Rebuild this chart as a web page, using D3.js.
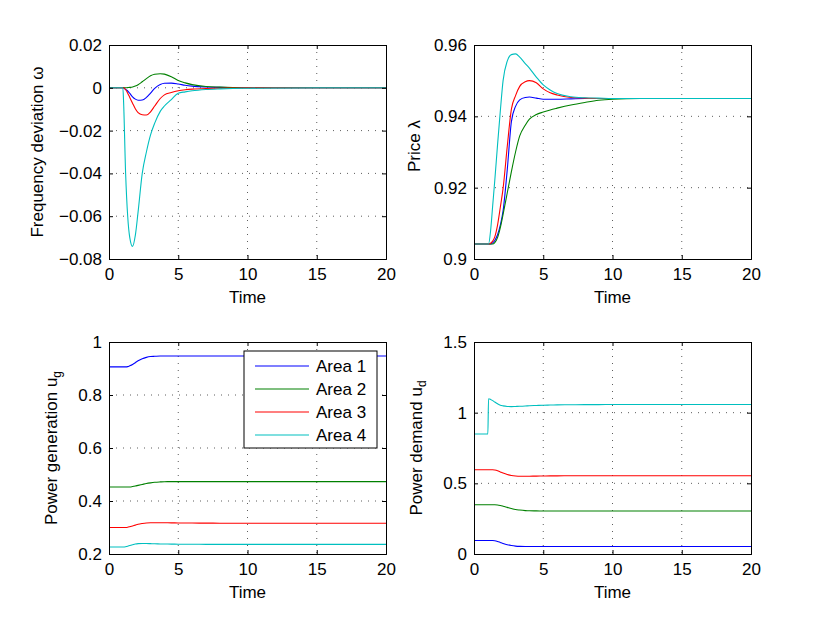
<!DOCTYPE html>
<html>
<head>
<meta charset="utf-8">
<style>
  body { margin: 0; background: #fff; }
  svg text { font-family: "Liberation Sans", Arial, sans-serif; fill: #000; }
</style>
</head>
<body>
<svg id="chart" width="830" height="625"></svg>
<script src="https://cdn.jsdelivr.net/npm/d3@7"></script>
<script>
// sample times shared by every curve
var time = [0, 1.0, 1.05, 1.2, 1.35, 1.5, 1.7, 1.9, 2.1, 2.4, 2.7, 3.0, 3.3, 3.7, 4.0, 4.5, 5.0, 5.5, 6, 7, 8, 9, 10, 12, 15, 20];

var areaNames = ["Area 1", "Area 2", "Area 3", "Area 4"];
var areaColors = ["#0000ff", "#008000", "#ff0000", "#00bfbf"];
var xTicks = [0, 5, 10, 15, 20];

// frequency deviation omega
var freqArea1 = [0, 0, 0, -0.0008, -0.0015, -0.0026, -0.0042, -0.0053, -0.0058, -0.0057, -0.0045, -0.0025, -0.0003, 0.0015, 0.0021, 0.0022, 0.0018, 0.0012, 0.0008, 0.0004, 0.0002, 0.0001, 0, 0, 0, 0];
var freqArea2 = [0, 0, 0, 0, 0.0001, 0.0002, 0.0004, 0.0008, 0.0014, 0.0028, 0.0043, 0.0056, 0.0063, 0.0066, 0.0064, 0.0052, 0.0034, 0.0023, 0.0015, 0.0006, 0.0003, 0.0001, 0, 0, 0, 0];
var freqArea3 = [0, 0, 0, -0.0008, -0.0025, -0.0045, -0.0072, -0.0098, -0.0116, -0.0126, -0.0127, -0.0112, -0.0085, -0.005, -0.0033, -0.0022, -0.0014, -0.0009, -0.0006, -0.0003, -0.0002, -0.0001, 0, 0, 0, 0];
var freqArea4 = [0, 0, -0.006, -0.04, -0.06, -0.07, -0.0741, -0.069, -0.058, -0.04, -0.03, -0.022, -0.0165, -0.011, -0.0085, -0.0055, -0.0025, -0.0019, -0.0014, -0.0008, -0.0005, -0.0003, -0.0002, -0.0001, 0, 0];

// price lambda
var priceArea1 = [0.9042, 0.9042, 0.9042, 0.9042, 0.9045, 0.9052, 0.9068, 0.9095, 0.9135, 0.925, 0.9385, 0.9428, 0.9446, 0.9453, 0.9454, 0.9451, 0.9448, 0.9448, 0.9448, 0.9449, 0.945, 0.945, 0.945, 0.945, 0.945, 0.945];
var priceArea2 = [0.9042, 0.9042, 0.9042, 0.9042, 0.9042, 0.9046, 0.906, 0.9088, 0.9125, 0.9185, 0.9245, 0.930, 0.9345, 0.9375, 0.9392, 0.9405, 0.9412, 0.9418, 0.9423, 0.9432, 0.9439, 0.9445, 0.9448, 0.945, 0.945, 0.945];
var priceArea3 = [0.9042, 0.9042, 0.9042, 0.9044, 0.905, 0.9062, 0.9095, 0.9145, 0.9198, 0.9315, 0.942, 0.9458, 0.9484, 0.9497, 0.95, 0.9494, 0.9477, 0.9466, 0.946, 0.9453, 0.9451, 0.945, 0.945, 0.945, 0.945, 0.945];
var priceArea4 = [0.9042, 0.9042, 0.9042, 0.908, 0.915, 0.922, 0.932, 0.9415, 0.95, 0.9555, 0.9573, 0.9575, 0.9566, 0.9548, 0.9535, 0.951, 0.9488, 0.9474, 0.9464, 0.9455, 0.9452, 0.9451, 0.945, 0.945, 0.945, 0.945];

// power generation u_g
var genArea1 = [0.906, 0.906, 0.906, 0.906, 0.907, 0.91, 0.915, 0.922, 0.929, 0.937, 0.942, 0.945, 0.946, 0.947, 0.947, 0.947, 0.947, 0.947, 0.947, 0.947, 0.947, 0.947, 0.947, 0.947, 0.947, 0.947];
var genArea2 = [0.453, 0.453, 0.453, 0.453, 0.453, 0.453, 0.4545, 0.4565, 0.459, 0.4625, 0.466, 0.4685, 0.4705, 0.472, 0.4728, 0.473, 0.473, 0.473, 0.473, 0.473, 0.473, 0.473, 0.473, 0.473, 0.473, 0.473];
var genArea3 = [0.3, 0.3, 0.3, 0.3, 0.301, 0.303, 0.306, 0.309, 0.312, 0.315, 0.3172, 0.318, 0.3182, 0.318, 0.3178, 0.3175, 0.3172, 0.317, 0.3168, 0.3165, 0.3163, 0.3162, 0.316, 0.316, 0.316, 0.316];
var genArea4 = [0.2264, 0.2264, 0.2264, 0.2275, 0.2295, 0.232, 0.235, 0.2378, 0.2393, 0.2398, 0.2395, 0.239, 0.2385, 0.238, 0.2377, 0.2373, 0.237, 0.2368, 0.2366, 0.2365, 0.2364, 0.2363, 0.2362, 0.2362, 0.2362, 0.2362];

// power demand u_d
var demArea1 = [0.096, 0.096, 0.096, 0.096, 0.0955, 0.094, 0.089, 0.082, 0.075, 0.066, 0.06, 0.056, 0.054, 0.053, 0.053, 0.053, 0.053, 0.053, 0.053, 0.053, 0.053, 0.053, 0.053, 0.053, 0.053, 0.053];
var demArea2 = [0.349, 0.349, 0.349, 0.349, 0.349, 0.349, 0.347, 0.343, 0.338, 0.330, 0.322, 0.315, 0.311, 0.307, 0.3055, 0.305, 0.3045, 0.304, 0.304, 0.304, 0.304, 0.304, 0.304, 0.304, 0.304, 0.304];
var demArea3 = [0.596, 0.596, 0.596, 0.596, 0.596, 0.594, 0.589, 0.581, 0.573, 0.563, 0.556, 0.552, 0.550, 0.550, 0.5505, 0.551, 0.552, 0.553, 0.553, 0.554, 0.554, 0.554, 0.554, 0.554, 0.554, 0.554];
var demArea4 = [0.849, 0.849, 1.099, 1.094, 1.085, 1.075, 1.063, 1.053, 1.048, 1.044, 1.043, 1.044, 1.045, 1.047, 1.049, 1.051, 1.053, 1.054, 1.055, 1.056, 1.057, 1.057, 1.058, 1.058, 1.058, 1.058];

var freqTicks = [0.02, 0, -0.02, -0.04, -0.06, -0.08];
var freqTickLabels = ["0.02", "0", "\u22120.02", "\u22120.04", "\u22120.06", "\u22120.08"];
var priceTicks = [0.96, 0.94, 0.92, 0.9];
var priceTickLabels = ["0.96", "0.94", "0.92", "0.9"];
var genTicks = [1, 0.8, 0.6, 0.4, 0.2];
var genTickLabels = ["1", "0.8", "0.6", "0.4", "0.2"];
var demTicks = [1.5, 1, 0.5, 0];
var demTickLabels = ["1.5", "1", "0.5", "0"];

var svg = d3.select("#chart");
var fontSize = 17;

function drawPanel(p) {
    var g = svg.append("g").attr("transform", "translate(" + p.left + "," + p.top + ")");
    var w = p.width, h = p.height;

    var x = d3.scaleLinear().domain([0, 20]).range([0, w]);
    var y = d3.scaleLinear().domain(p.yDomain).range([h, 0]);

    // dotted grid
    g.append("g").selectAll("line")
        .data(xTicks.slice(1, -1))
        .enter().append("line")
        .attr("x1", function(d) { return x(d); })
        .attr("x2", function(d) { return x(d); })
        .attr("y1", 0).attr("y2", h)
        .attr("stroke", "#333").attr("stroke-width", 0.8)
        .attr("stroke-dasharray", "1,6");
    g.append("g").selectAll("line")
        .data(p.yTicks.filter(function(d) { return d !== p.yDomain[0] && d !== p.yDomain[1]; }))
        .enter().append("line")
        .attr("x1", 0).attr("x2", w)
        .attr("y1", function(d) { return y(d); })
        .attr("y2", function(d) { return y(d); })
        .attr("stroke", "#333").attr("stroke-width", 0.8)
        .attr("stroke-dasharray", "1,6");

    // curves
    var line = d3.line()
        .x(function(d) { return x(d[0]); })
        .y(function(d) { return y(d[1]); })
        .curve(d3.curveMonotoneX);
    p.series.forEach(function(vals, i) {
        g.append("path")
            .datum(time.map(function(t, k) { return [t, vals[k]]; }))
            .attr("d", line)
            .attr("fill", "none")
            .attr("stroke", areaColors[i])
            .attr("stroke-width", 1.1);
    });

    // axes: ticks inside, on all four sides
    var tickLen = 4;
    g.append("g").attr("transform", "translate(0," + h + ")")
        .call(d3.axisBottom(x).tickValues(xTicks).tickSize(-tickLen).tickPadding(9))
        .call(styleAxis);
    g.append("g")
        .call(d3.axisTop(x).tickValues(xTicks).tickSize(-tickLen).tickFormat(""))
        .call(styleAxis);
    g.append("g")
        .call(d3.axisLeft(y).tickValues(p.yTicks).tickSize(-tickLen).tickPadding(7)
            .tickFormat(function(d, i) { return p.yTickLabels[i]; }))
        .call(styleAxis);
    g.append("g").attr("transform", "translate(" + w + ",0)")
        .call(d3.axisRight(y).tickValues(p.yTicks).tickSize(-tickLen).tickFormat(""))
        .call(styleAxis);

    // x label
    g.append("text")
        .attr("x", w / 2).attr("y", h + 44)
        .attr("text-anchor", "middle")
        .style("font-size", fontSize + "px")
        .text("Time");

    // y label
    var yl = g.append("text")
        .attr("transform", "translate(" + p.labelX + "," + (h / 2 + p.labelShift) + ") rotate(-90)")
        .attr("text-anchor", "middle")
        .style("font-size", fontSize + "px")
        .text(p.ylabel);
    if (p.ysub) {
        yl.append("tspan").attr("dy", "0.35em").style("font-size", "12px").text(p.ysub);
    }
    return {g: g, x: x, y: y};
}

function styleAxis(sel) {
    sel.select(".domain").attr("stroke", "#000").attr("stroke-width", 1);
    sel.selectAll(".tick line").attr("stroke", "#000").attr("stroke-width", 1);
    sel.selectAll(".tick text").style("font-size", fontSize + "px")
        .style("font-family", "'Liberation Sans', Arial, sans-serif").attr("fill", "#000");
}

drawPanel({left: 109, top: 45, width: 277, height: 214, yDomain: [-0.08, 0.02],
    yTicks: freqTicks, yTickLabels: freqTickLabels, ylabel: "Frequency deviation \u03C9",
    labelX: -66, labelShift: 0, series: [freqArea1, freqArea2, freqArea3, freqArea4]});

drawPanel({left: 474, top: 45, width: 277, height: 214, yDomain: [0.9, 0.96],
    yTicks: priceTicks, yTickLabels: priceTickLabels, ylabel: "Price \u03BB",
    labelX: -54, labelShift: -6, series: [priceArea1, priceArea2, priceArea3, priceArea4]});

var bl = drawPanel({left: 109, top: 342, width: 277, height: 212, yDomain: [0.2, 1],
    yTicks: genTicks, yTickLabels: genTickLabels, ylabel: "Power generation u", ysub: "g",
    labelX: -52, labelShift: 0, series: [genArea1, genArea2, genArea3, genArea4]});

drawPanel({left: 474, top: 342, width: 277, height: 212, yDomain: [0, 1.5],
    yTicks: demTicks, yTickLabels: demTickLabels, ylabel: "Power demand u", ysub: "d",
    labelX: -52, labelShift: 0, series: [demArea1, demArea2, demArea3, demArea4]});

// legend in the power generation panel
var leg = bl.g.append("g").attr("transform", "translate(135,9)");
leg.append("rect")
    .attr("width", 133).attr("height", 97)
    .attr("fill", "#fff").attr("stroke", "#000").attr("stroke-width", 1);
areaNames.forEach(function(name, i) {
    var row = leg.append("g").attr("transform", "translate(0," + (15 + i * 23) + ")");
    row.append("line").attr("x1", 11).attr("x2", 65)
        .attr("stroke", areaColors[i]).attr("stroke-width", 1.1);
    row.append("text").attr("x", 72).attr("dy", "0.35em")
        .style("font-size", fontSize + "px").text(name);
});
</script>
</body>
</html>
